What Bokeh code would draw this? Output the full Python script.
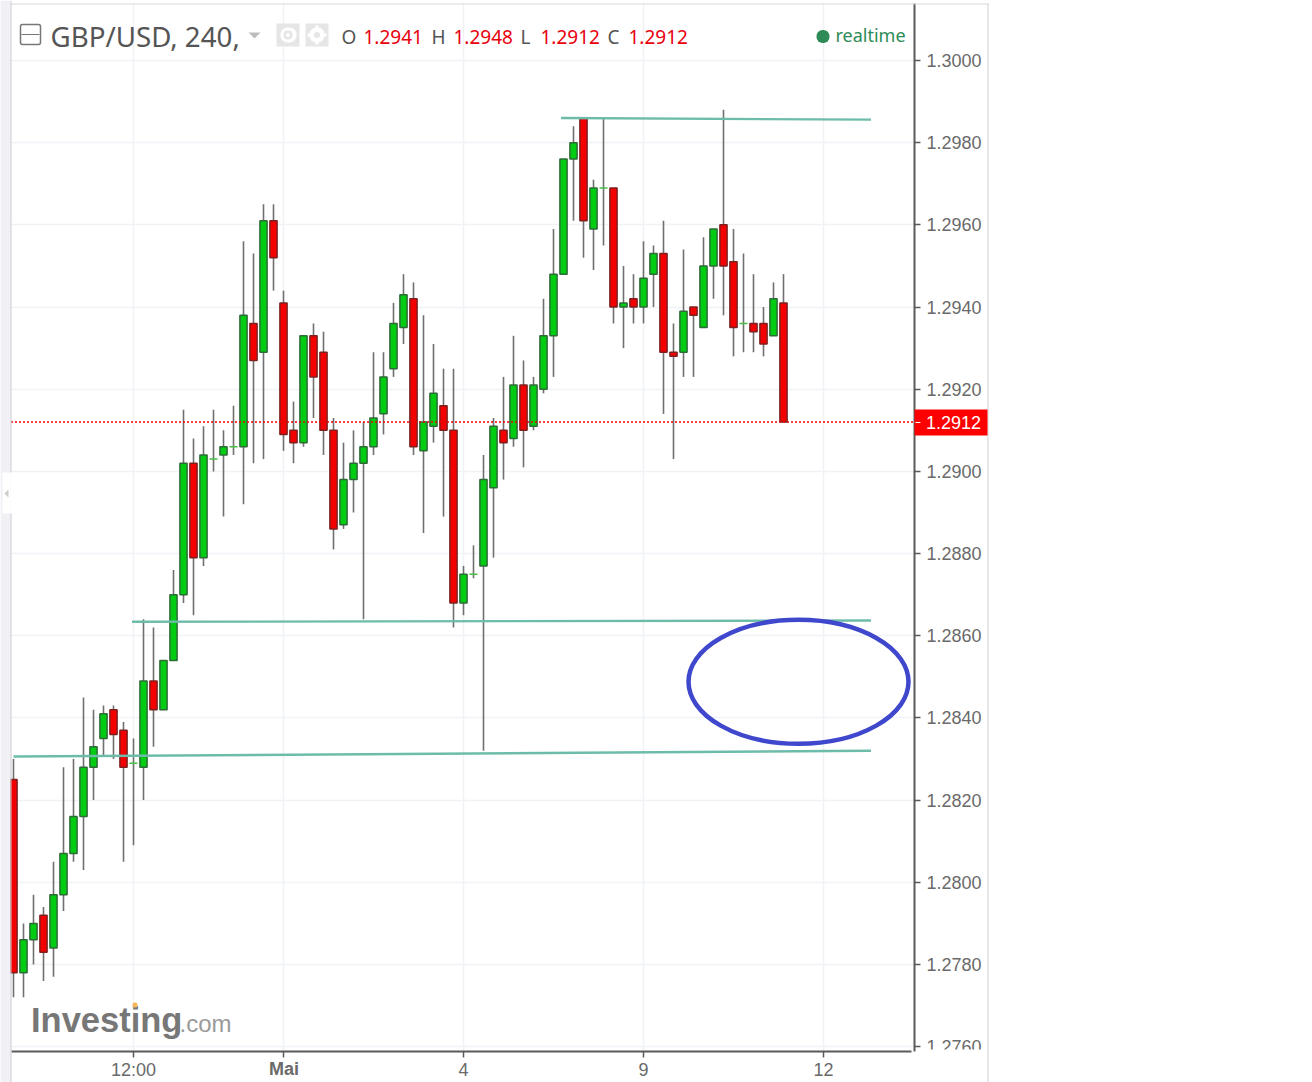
from bokeh.plotting import figure
from bokeh.models import ColumnDataSource, FixedTicker, Range1d, Label, BoxAnnotation, PolyAnnotation
from bokeh.embed import file_html
from bokeh.resources import INLINE

opens = [1.2825,1.2778,1.2786,1.2792,1.2784,1.2797,1.2807,1.2816,1.2828,1.2835,
         1.2842,1.2837,1.2829,1.2828,1.2849,1.2842,1.2854,1.2870,1.2902,1.2879,
         1.2903,1.2904,1.2906,1.2906,1.2936,1.2929,1.2961,1.2941,1.2910,1.2907,
         1.2933,1.2929,1.2910,1.2887,1.2898,1.2902,1.2906,1.2914,1.2925,1.2935,
         1.2942,1.2905,1.2911,1.2916,1.2910,1.2868,1.2875,1.2877,1.2896,1.2910,
         1.2908,1.2921,1.2911,1.2920,1.2933,1.2948,1.2976,1.2986,1.2959,1.2969,
         1.2969,1.2940,1.2942,1.2940,1.2948,1.2953,1.2929,1.2929,1.2940,1.2935,
         1.2950,1.2960,1.2951,1.2936,1.2936,1.2936,1.2933,1.2941]
highs = [1.2830,1.2790,1.2797,1.2794,1.2805,1.2828,1.2830,1.2845,1.2842,1.2843,
         1.2843,1.2839,1.2835,1.2864,1.2862,1.2854,1.2876,1.2915,1.2908,1.2911,
         1.2915,1.2910,1.2916,1.2956,1.2953,1.2965,1.2965,1.2944,1.2917,1.2933,
         1.2936,1.2934,1.2913,1.2907,1.2910,1.2912,1.2929,1.2929,1.2941,1.2948,
         1.2946,1.2938,1.2931,1.2925,1.2925,1.2877,1.2882,1.2904,1.2913,1.2923,
         1.2933,1.2927,1.2923,1.2942,1.2959,1.2976,1.2984,1.2986,1.2971,1.2986,
         1.2969,1.2950,1.2948,1.2956,1.2955,1.2961,1.2936,1.2954,1.2940,1.2957,
         1.2959,1.2988,1.2959,1.2953,1.2948,1.2940,1.2946,1.2948]
lows = [1.2772,1.2772,1.2780,1.2776,1.2777,1.2793,1.2805,1.2803,1.2820,1.2831,
        1.2830,1.2805,1.2809,1.2820,1.2833,1.2842,1.2854,1.2868,1.2865,1.2877,
        1.2900,1.2889,1.2904,1.2892,1.2902,1.2903,1.2944,1.2905,1.2902,1.2906,
        1.2913,1.2904,1.2881,1.2886,1.2890,1.2864,1.2904,1.2909,1.2923,1.2931,
        1.2904,1.2885,1.2907,1.2889,1.2862,1.2865,1.2874,1.2832,1.2879,1.2898,
        1.2906,1.2901,1.2910,1.2919,1.2923,1.2948,1.2961,1.2952,1.2949,1.2955,
        1.2936,1.2930,1.2936,1.2936,1.2940,1.2914,1.2903,1.2923,1.2923,1.2935,
        1.2942,1.2938,1.2928,1.2929,1.2929,1.2928,1.2933,1.2912]
closes = [1.2778,1.2786,1.2790,1.2783,1.2797,1.2807,1.2816,1.2828,1.2833,1.2841,
          1.2836,1.2828,1.2829,1.2849,1.2842,1.2854,1.2870,1.2902,1.2879,1.2904,
          1.2903,1.2906,1.2906,1.2938,1.2927,1.2961,1.2952,1.2909,1.2907,1.2933,
          1.2923,1.2910,1.2886,1.2898,1.2902,1.2906,1.2913,1.2923,1.2936,1.2943,
          1.2906,1.2912,1.2919,1.2910,1.2868,1.2875,1.2875,1.2898,1.2911,1.2907,
          1.2921,1.2910,1.2921,1.2933,1.2948,1.2976,1.2980,1.2961,1.2969,1.2969,
          1.2940,1.2941,1.2940,1.2947,1.2953,1.2929,1.2928,1.2939,1.2938,1.2950,
          1.2959,1.2950,1.2935,1.2936,1.2934,1.2931,1.2942,1.2912]

y_ticks = [1.3000,1.2980,1.2960,1.2940,1.2920,1.2900,1.2880,1.2860,1.2840,1.2820,1.2800,1.2780,1.2760]
x_ticks = [12, 27, 45, 63, 81]
x_labels = ["12:00", "", "4", "9", "12"]
last_price = 1.2912

trend_x = [[54.75, 85.75], [11.85, 85.75], [0.0, 85.75]]
trend_y = [[1.29860, 1.29856], [1.28634, 1.28637], [1.28306, 1.28320]]
price_line_x = [-0.25, 90.1]

W, H = 1312, 1082

p = figure(width=W, height=H, output_backend="svg", toolbar_location=None,
           x_range=Range1d(-1.30, 129.90), y_range=Range1d(1.2751278, 1.3014602),
           y_axis_location="right", min_border=0, margin=0,
           outline_line_color=None, background_fill_color="white")

AX = "#5a5a5a"
for ax, ticks in ((p.yaxis[0], y_ticks), (p.xaxis[0], x_ticks)):
    ax.ticker = FixedTicker(ticks=ticks)
    ax.axis_line_color = AX
    ax.axis_line_width = 2
    ax.major_tick_line_color = AX
    ax.major_tick_line_width = 1.5
    ax.major_tick_in = 0
    ax.major_tick_out = 6
    ax.minor_tick_line_color = None
    ax.major_label_text_font = "Liberation Sans"
    ax.major_label_text_font_size = "18px"
    ax.major_label_text_color = "#6a6a6a"
p.yaxis[0].fixed_location = 90.1
p.yaxis[0].bounds = (1.2758822, 1.301387)
p.yaxis[0].major_label_overrides = {t: f"{t:.4f}" for t in y_ticks}
p.yaxis[0].major_label_standoff = 6
p.xaxis[0].fixed_location = 1.2758822
p.xaxis[0].bounds = (-0.25, 89.8)
p.xaxis[0].major_label_overrides = dict(zip(x_ticks, x_labels))
p.xaxis[0].major_label_standoff = 2
for g, ticks in ((p.ygrid[0], y_ticks), (p.xgrid[0], x_ticks)):
    g.ticker = FixedTicker(ticks=ticks)
    g.grid_line_color = "#f0f2f6"
    g.grid_line_width = 1.5

def box(l, t, r, b, color, radius=0, line=None, level="overlay", lw=1):
    p.add_layout(BoxAnnotation(left=l, right=r, top=t, bottom=b, left_units="canvas",
                               right_units="canvas", top_units="canvas", bottom_units="canvas",
                               fill_color=color, fill_alpha=1 if color else 0,
                               line_color=line, line_width=lw, line_alpha=1 if line else 0,
                               border_radius=int(round(radius)), level=level, editable=False))

def poly(xs, ys, color):
    p.add_layout(PolyAnnotation(xs=xs, ys=ys, xs_units="canvas", ys_units="canvas",
                                fill_color=color, fill_alpha=1, line_color=None, level="overlay"))

def text(x, y, s, size, color, font="Noto Sans", style="normal", align="left"):
    p.add_layout(Label(x=x, y=H-y, x_units="screen", y_units="screen", text=s,
                       text_font=font, text_font_size=f"{size}px", text_color=color,
                       text_font_style=style, text_align=align, text_baseline="middle",
                       level="overlay"))

# grid stops at the plot frame
box(914, 0, W, H, "#ffffff", level="underlay")
box(0, 1051, W, H, "#ffffff", level="underlay")
box(0, 0, W, 3, "#ffffff", level="underlay")

idx = list(range(len(opens)))
groups = {"up": [], "down": [], "flat": []}
for i in idx:
    k = "flat" if opens[i] == closes[i] else ("up" if closes[i] > opens[i] else "down")
    groups[k].append(i)

def src(ii):
    return ColumnDataSource(dict(x=ii, o=[opens[i] for i in ii], c=[closes[i] for i in ii],
                                 h=[highs[i] for i in ii], l=[lows[i] for i in ii]))

p.segment("x", "h", "x", "l", source=src(idx), line_color="#707070", line_width=1.6)
p.vbar("x", 0.72, "o", "c", source=src(groups["up"]), fill_color="#00cc11", line_color="#2f6b38", line_width=1.5)
p.vbar("x", 0.72, "o", "c", source=src(groups["down"]), fill_color="#f50000", line_color="#7d2020", line_width=1.5)
p.vbar("x", 0.8, "o", "c", source=src(groups["flat"]), fill_color="#44c044", line_color="#44c044", line_width=1.5)

for xs, ys in zip(trend_x, trend_y):
    p.line(xs, ys, line_color="#6dbcaa", line_width=2.4)

p.ellipse([78.5], [1.28488], width=22.0, height=0.00302, fill_color=None,
          line_color="#3f48cc", line_width=4.5)

p.line(price_line_x, [last_price, last_price], line_color="#f00000", line_dash=[2, 2], line_width=1.5)

# page chrome
box(0, 0, 10, H, "#f0f0f5")
box(2, 472, 10, 513, "#ffffff")
poly([8, 8, 4], [489, 497, 493], "#cccccc")
box(10, 0, 11, 472, "#c9cad0")
box(10, 513, 11, H, "#c9cad0")
box(10, 3, 988, 4, "#d6d7dc")
box(987, 3, 988, H, "#cfd0d4")
# clip of the lowest axis label
box(920, 1049, 986, 1064, "#ffffff")

# header
box(20, 24, 40, 44, None, radius=2, line="#777777", lw=1.5)
box(21, 33.5, 39, 34.5, "#777777")
text(50, 35, "GBP/USD, 240,", 27.7, "#555555")
poly([248, 260, 254], [32, 32, 38], "#bdbdbd")
box(276, 23, 299, 46, "#e6e6e6")
box(280, 27, 296, 42, "#ffffff", radius=7)
box(283, 30, 292, 39, "#e6e6e6", radius=4)
box(285.5, 32.5, 289.5, 36.5, "#ffffff", radius=2)
box(305, 23, 328, 46, "#e6e6e6")
box(309, 27, 324, 42, "#ffffff", radius=7)
box(315, 25, 318, 44, "#ffffff")
box(307, 33, 326, 36, "#ffffff")
box(313.5, 31.5, 319.5, 37.5, "#e6e6e6", radius=3)
for tx, s, col in ((341, "O", "#555555"), (363, "1.2941", "#e8000d"), (431, "H", "#555555"),
                   (453, "1.2948", "#e8000d"), (520, "L", "#555555"), (540, "1.2912", "#e8000d"),
                   (607, "C", "#555555"), (628, "1.2912", "#e8000d")):
    text(tx, 36, s, 19, col)
box(816, 29.5, 829, 42.5, "#2e8b57", radius=6)
text(835, 34, "realtime", 18, "#2e8b57")

# last price tag
box(914, 409, 987, 435, "#ff0000")
box(915, 421.5, 920, 422.5, "#ffffff")
text(925.5, 422, f"{last_price:.4f}", 18, "#ffffff", font="Liberation Sans")

# bold month label
text(283.5, 1068, "Mai", 18, "#6a6a6a", font="Liberation Sans", style="bold", align="center")

# watermark
text(30.5, 1019, "Investing", 34.5, "#777777", font="Liberation Sans", style="bold")
text(179, 1023, ".com", 24, "#9a9a9a", font="Liberation Sans")
box(132, 1002, 137, 1007, "#f5b85a", radius=2)

open("out.html", "w").write(file_html(p, INLINE))
